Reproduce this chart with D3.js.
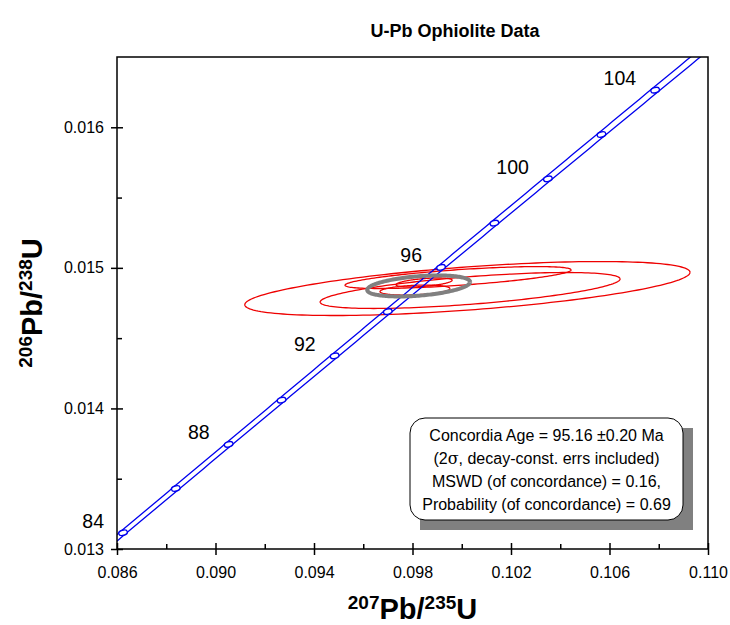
<!DOCTYPE html>
<html>
<head>
<meta charset="utf-8">
<script src="https://cdn.jsdelivr.net/npm/d3@7/dist/d3.min.js"></script>
<style>
  body { margin: 0; background: #fff; }
  text { font-family: Arial, "Liberation Sans", Helvetica, sans-serif; fill: #000; }
</style>
</head>
<body>
<svg id="chart" width="730" height="625"></svg>
<script>
// Axis ranges and ticks
const xDomain = [0.086, 0.110];
const yDomain = [0.013, 0.0165];
const xMajorTicks = [0.086, 0.090, 0.094, 0.098, 0.102, 0.106, 0.110];
const xMinorTicks = [0.088, 0.092, 0.096, 0.100, 0.104, 0.108];
const yMajorTicks = [0.013, 0.014, 0.015, 0.016];
const yMinorTicks = [0.0135, 0.0145, 0.0155];

// Concordia age markers (Ma)
const markerAges = [84, 86, 88, 90, 92, 94, 96, 98, 100, 102, 104, 106];
const labelAges = [84, 88, 92, 96, 100, 104];

// Decay constants (1/yr) and 2-sigma relative uncertainties
const lambda238 = 1.55125e-10;
const lambda235 = 9.8485e-10;
const relErr238 = 0.00107;
const relErr235 = 0.00136;

// Analyses: ratios, 2-sigma errors and error correlation
const ratio207_235 = [0.10023, 0.10034, 0.09985, 0.09810, 0.09847];
const err207_235   = [0.00904, 0.00609, 0.00459, 0.00142, 0.00114];
const ratio206_238 = [0.014853, 0.014839, 0.014931, 0.014842, 0.014896];
const err206_238   = [0.000192, 0.000128, 0.000078, 0.0000356, 0.000032];
const errCorr      = [0.60, 0.64, 0.70, 0.30, 0.50];

// Concordia age result
const concordiaAge = 95.16;
const concordiaAgeErr = 0.20;
const concordiaErrX = 0.00209;
const concordiaErrY = 0.0000747;
const concordiaRho = 0.38;
const mswd = 0.16;
const probability = 0.69;

const chartTitle = "U-Pb Ophiolite Data";

const svg = d3.select("#chart");
const margin = { left: 117, right: 22, top: 57, bottom: 76 };
const W = 730, H = 625;
const x = d3.scaleLinear().domain(xDomain).range([margin.left, W - margin.right]);
const y = d3.scaleLinear().domain(yDomain).range([H - margin.bottom, margin.top]);

svg.append("defs").append("clipPath").attr("id", "plotClip")
  .append("rect")
  .attr("x", x(xDomain[0])).attr("y", y(yDomain[1]))
  .attr("width", x(xDomain[1]) - x(xDomain[0]))
  .attr("height", y(yDomain[0]) - y(yDomain[1]));

const plot = svg.append("g").attr("clip-path", "url(#plotClip)");

// Concordia curve helpers
const conc = t => ({
  X: Math.exp(lambda235 * t * 1e6) - 1,
  Y: Math.exp(lambda238 * t * 1e6) - 1
});
const kx = x(1) - x(0);
const ky = y(0) - y(1);

// Decay-constant error envelope (pixel space)
function envelopeAt(t) {
  const c = conc(t);
  const px = x(c.X), py = y(c.Y);
  const sxp = (c.X + 1) * lambda235 * t * 1e6 * relErr235 * kx;
  const syp = (c.Y + 1) * lambda238 * t * 1e6 * relErr238 * ky;
  let tx = lambda235 * (c.X + 1) * kx;
  let ty = -lambda238 * (c.Y + 1) * ky;
  const len = Math.hypot(tx, ty);
  tx /= len; ty /= len;
  const nx = -ty, ny = tx;
  const w = Math.sqrt((sxp * nx) ** 2 + (syp * ny) ** 2);
  return { px, py, nx, ny, w };
}

const ages = d3.range(78, 112.001, 0.25);
const env = ages.map(envelopeAt);
const line = d3.line().x(d => d[0]).y(d => d[1]);

// Data error ellipses
function ellipsePoints(cx, cy, sx, sy, r) {
  const s = Math.sqrt(1 - r * r);
  return d3.range(0, 361, 2).map(a => {
    const th = a * Math.PI / 180;
    return [x(cx + sx * Math.cos(th)), y(cy + sy * (r * Math.cos(th) + s * Math.sin(th)))];
  });
}

ratio207_235.forEach((cx, i) => {
  plot.append("path")
    .attr("d", line(ellipsePoints(cx, ratio206_238[i], err207_235[i], err206_238[i], errCorr[i])))
    .attr("fill", "none").attr("stroke", "#ee0000").attr("stroke-width", 1.3);
});

// Concordia band lines
plot.append("path")
  .attr("d", line(env.map(e => [e.px + e.nx * e.w, e.py + e.ny * e.w])))
  .attr("fill", "none").attr("stroke", "#0000ee").attr("stroke-width", 1.3);
plot.append("path")
  .attr("d", line(env.map(e => [e.px - e.nx * e.w, e.py - e.ny * e.w])))
  .attr("fill", "none").attr("stroke", "#0000ee").attr("stroke-width", 1.3);

// Age markers
markerAges.forEach(t => {
  const e = envelopeAt(t);
  plot.append("ellipse")
    .attr("cx", e.px).attr("cy", e.py)
    .attr("rx", 4.4).attr("ry", 2.6)
    .attr("transform", `rotate(-15 ${e.px} ${e.py})`)
    .attr("fill", "#fff").attr("stroke", "#0000ee").attr("stroke-width", 1.4);
});

// Concordia age ellipse
const ca = conc(concordiaAge);
plot.append("path")
  .attr("d", line(ellipsePoints(ca.X, ca.Y, concordiaErrX, concordiaErrY, concordiaRho)))
  .attr("fill", "none").attr("stroke", "#808080").attr("stroke-width", 4);

// Age labels
labelAges.forEach(t => {
  const e = envelopeAt(t);
  svg.append("text")
    .attr("x", e.px - 19).attr("y", e.py - 5)
    .attr("text-anchor", "end")
    .attr("font-size", 19.5)
    .text(t);
});

// Axes
const tickStyle = g => {
  g.select(".domain").remove();
  g.selectAll(".tick line").attr("stroke", "#000").attr("stroke-width", 1.5);
  g.selectAll(".tick text").attr("font-size", 16).attr("fill", "#000")
    .style("font-family", "Arial, 'Liberation Sans', sans-serif");
};
const yBase = y(yDomain[0]);
const xBase = x(xDomain[0]);
const fmt = d3.format(".3f");

svg.append("g").attr("transform", `translate(0,${yBase})`)
  .call(d3.axisBottom(x).tickValues(xMajorTicks).tickSize(6).tickPadding(12).tickFormat(fmt))
  .call(tickStyle);
svg.append("g").attr("transform", `translate(0,${yBase})`)
  .call(d3.axisBottom(x).tickValues(xMajorTicks).tickSize(-6).tickFormat(""))
  .call(tickStyle);
svg.append("g").attr("transform", `translate(0,${yBase})`)
  .call(d3.axisBottom(x).tickValues(xMinorTicks).tickSize(-5).tickFormat(""))
  .call(tickStyle);

svg.append("g").attr("transform", `translate(${xBase},0)`)
  .call(d3.axisLeft(y).tickValues(yMajorTicks).tickSize(6).tickPadding(7).tickFormat(fmt))
  .call(tickStyle);
svg.append("g").attr("transform", `translate(${xBase},0)`)
  .call(d3.axisLeft(y).tickValues(yMajorTicks).tickSize(-6).tickFormat(""))
  .call(tickStyle);
svg.append("g").attr("transform", `translate(${xBase},0)`)
  .call(d3.axisLeft(y).tickValues(yMinorTicks).tickSize(-5).tickFormat(""))
  .call(tickStyle);

// Plot frame
svg.append("rect")
  .attr("x", x(xDomain[0])).attr("y", y(yDomain[1]))
  .attr("width", x(xDomain[1]) - x(xDomain[0]))
  .attr("height", y(yDomain[0]) - y(yDomain[1]))
  .attr("fill", "none").attr("stroke", "#000").attr("stroke-width", 1.5);

// Title
svg.append("text")
  .attr("x", 455).attr("y", 37)
  .attr("text-anchor", "middle")
  .attr("font-size", 18).attr("font-weight", "bold")
  .text(chartTitle);

// Axis titles with superscript mass numbers
function isotopeTitle(sel, a, b, c, d) {
  sel.append("tspan").attr("font-size", 19).attr("dy", -10).text(a);
  sel.append("tspan").attr("font-size", 29).attr("dy", 10).text(b);
  sel.append("tspan").attr("font-size", 19).attr("dy", -10).text(c);
  sel.append("tspan").attr("font-size", 29).attr("dy", 10).text(d);
}
svg.append("text")
  .attr("x", (x(xDomain[0]) + x(xDomain[1])) / 2).attr("y", 619)
  .attr("text-anchor", "middle").attr("font-weight", "bold")
  .call(isotopeTitle, "207", "Pb/", "235", "U");
svg.append("text")
  .attr("transform", `translate(42,${(y(yDomain[0]) + y(yDomain[1])) / 2}) rotate(-90)`)
  .attr("text-anchor", "middle").attr("font-weight", "bold")
  .call(isotopeTitle, "206", "Pb/", "238", "U");

// Result box with drop shadow
const box = { x: 410, y: 418, w: 273, h: 102 };
svg.append("rect")
  .attr("x", box.x + 10).attr("y", box.y + 10)
  .attr("width", box.w).attr("height", box.h)
  .attr("fill", "#808080");
svg.append("rect")
  .attr("x", box.x).attr("y", box.y)
  .attr("width", box.w).attr("height", box.h)
  .attr("rx", 15).attr("ry", 15)
  .attr("fill", "#fff").attr("stroke", "#000").attr("stroke-width", 1);

const boxLines = [
  [`Concordia Age = ${concordiaAge.toFixed(2)} \u00b1${concordiaAgeErr.toFixed(2)} Ma`],
  ["(2", "\u03c3", ", decay-const. errs included)"],
  [`MSWD (of concordance) = ${mswd.toFixed(2)},`],
  [`Probability (of concordance) = ${probability.toFixed(2)}`]
];
boxLines.forEach((parts, i) => {
  const t = svg.append("text")
    .attr("x", box.x + box.w / 2).attr("y", box.y + 23 + i * 23)
    .attr("text-anchor", "middle").attr("font-size", 16);
  parts.forEach(p => {
    const sp = t.append("tspan").text(p);
    if (p === "\u03c3") sp.style("font-family", "'DejaVu Serif', 'Liberation Serif', serif");
  });
});
</script>
</body>
</html>
